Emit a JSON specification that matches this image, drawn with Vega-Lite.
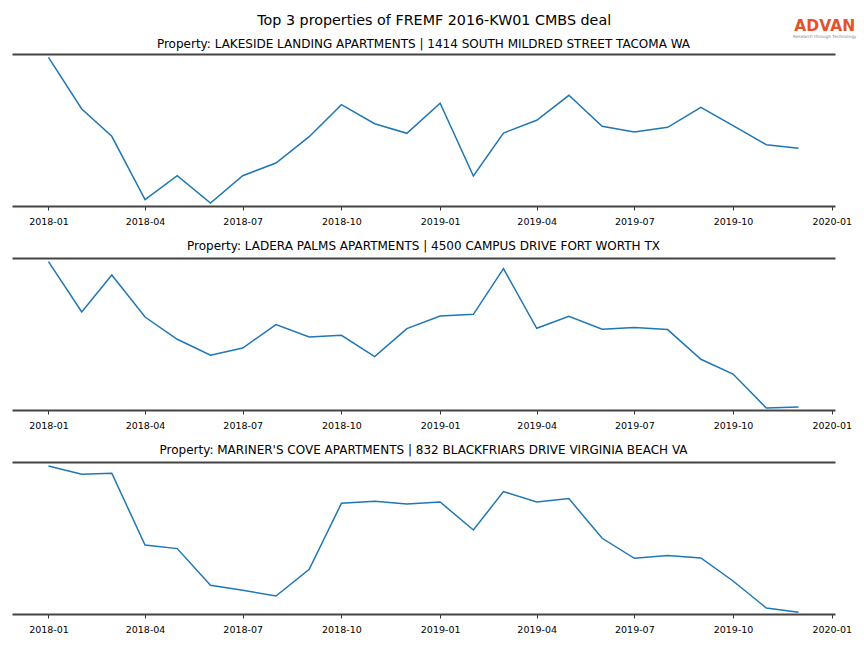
{
  "$schema": "https://vega.github.io/schema/vega-lite/v6.json",
  "padding": {"left": 12, "top": 13, "right": 5, "bottom": 5},
  "background": "white",
  "title": {"text": "Top 3 properties of FREMF 2016-KW01 CMBS deal", "fontSize": 14.3, "fontWeight": "normal", "color": "black", "anchor": "middle", "offset": -9},
  "data": {"values": [
    {"property": "LAKESIDE", "month": "2018-01-01", "value": 148.7},
    {"property": "LAKESIDE", "month": "2018-02-01", "value": 97},
    {"property": "LAKESIDE", "month": "2018-03-01", "value": 69.7},
    {"property": "LAKESIDE", "month": "2018-04-01", "value": 6.3},
    {"property": "LAKESIDE", "month": "2018-05-01", "value": 30.3},
    {"property": "LAKESIDE", "month": "2018-06-01", "value": 3},
    {"property": "LAKESIDE", "month": "2018-07-01", "value": 30.3},
    {"property": "LAKESIDE", "month": "2018-08-01", "value": 43},
    {"property": "LAKESIDE", "month": "2018-09-01", "value": 69.3},
    {"property": "LAKESIDE", "month": "2018-10-01", "value": 101.3},
    {"property": "LAKESIDE", "month": "2018-11-01", "value": 82.3},
    {"property": "LAKESIDE", "month": "2018-12-01", "value": 72.7},
    {"property": "LAKESIDE", "month": "2019-01-01", "value": 102.7},
    {"property": "LAKESIDE", "month": "2019-02-01", "value": 30},
    {"property": "LAKESIDE", "month": "2019-03-01", "value": 73},
    {"property": "LAKESIDE", "month": "2019-04-01", "value": 85.7},
    {"property": "LAKESIDE", "month": "2019-05-01", "value": 110.7},
    {"property": "LAKESIDE", "month": "2019-06-01", "value": 79.7},
    {"property": "LAKESIDE", "month": "2019-07-01", "value": 74},
    {"property": "LAKESIDE", "month": "2019-08-01", "value": 78.7},
    {"property": "LAKESIDE", "month": "2019-09-01", "value": 98.7},
    {"property": "LAKESIDE", "month": "2019-10-01", "value": 80.3},
    {"property": "LAKESIDE", "month": "2019-11-01", "value": 61.3},
    {"property": "LAKESIDE", "month": "2019-12-01", "value": 57.7},
    {"property": "LADERA", "month": "2018-01-01", "value": 148.4},
    {"property": "LADERA", "month": "2018-02-01", "value": 98},
    {"property": "LADERA", "month": "2018-03-01", "value": 135},
    {"property": "LADERA", "month": "2018-04-01", "value": 93},
    {"property": "LADERA", "month": "2018-05-01", "value": 70.7},
    {"property": "LADERA", "month": "2018-06-01", "value": 54.7},
    {"property": "LADERA", "month": "2018-07-01", "value": 62},
    {"property": "LADERA", "month": "2018-08-01", "value": 85.4},
    {"property": "LADERA", "month": "2018-09-01", "value": 73},
    {"property": "LADERA", "month": "2018-10-01", "value": 74.7},
    {"property": "LADERA", "month": "2018-11-01", "value": 53.4},
    {"property": "LADERA", "month": "2018-12-01", "value": 81.4},
    {"property": "LADERA", "month": "2019-01-01", "value": 94},
    {"property": "LADERA", "month": "2019-02-01", "value": 95.7},
    {"property": "LADERA", "month": "2019-03-01", "value": 141.4},
    {"property": "LADERA", "month": "2019-04-01", "value": 81.7},
    {"property": "LADERA", "month": "2019-05-01", "value": 93.7},
    {"property": "LADERA", "month": "2019-06-01", "value": 80.7},
    {"property": "LADERA", "month": "2019-07-01", "value": 82.4},
    {"property": "LADERA", "month": "2019-08-01", "value": 80.4},
    {"property": "LADERA", "month": "2019-09-01", "value": 50.7},
    {"property": "LADERA", "month": "2019-10-01", "value": 36},
    {"property": "LADERA", "month": "2019-11-01", "value": 2},
    {"property": "LADERA", "month": "2019-12-01", "value": 3},
    {"property": "MARINER", "month": "2018-01-01", "value": 148},
    {"property": "MARINER", "month": "2018-02-01", "value": 139.7},
    {"property": "MARINER", "month": "2018-03-01", "value": 140.7},
    {"property": "MARINER", "month": "2018-04-01", "value": 69},
    {"property": "MARINER", "month": "2018-05-01", "value": 65.4},
    {"property": "MARINER", "month": "2018-06-01", "value": 28.7},
    {"property": "MARINER", "month": "2018-07-01", "value": 23.7},
    {"property": "MARINER", "month": "2018-08-01", "value": 18},
    {"property": "MARINER", "month": "2018-09-01", "value": 44.7},
    {"property": "MARINER", "month": "2018-10-01", "value": 110.7},
    {"property": "MARINER", "month": "2018-11-01", "value": 112.7},
    {"property": "MARINER", "month": "2018-12-01", "value": 110},
    {"property": "MARINER", "month": "2019-01-01", "value": 112},
    {"property": "MARINER", "month": "2019-02-01", "value": 84},
    {"property": "MARINER", "month": "2019-03-01", "value": 122.4},
    {"property": "MARINER", "month": "2019-04-01", "value": 112},
    {"property": "MARINER", "month": "2019-05-01", "value": 115.4},
    {"property": "MARINER", "month": "2019-06-01", "value": 75.7},
    {"property": "MARINER", "month": "2019-07-01", "value": 55.7},
    {"property": "MARINER", "month": "2019-08-01", "value": 58.4},
    {"property": "MARINER", "month": "2019-09-01", "value": 56},
    {"property": "MARINER", "month": "2019-10-01", "value": 33},
    {"property": "MARINER", "month": "2019-11-01", "value": 6},
    {"property": "MARINER", "month": "2019-12-01", "value": 1.7}
  ]},
  "vconcat": [
    {
      "width": 823, "height": 152,
      "title": {"text": "Property: LAKESIDE LANDING APARTMENTS | 1414 SOUTH MILDRED STREET TACOMA WA", "fontSize": 12, "fontWeight": "normal", "color": "black", "anchor": "middle", "offset": -32},
      "transform": [{"filter": {"field": "property", "equal": "LAKESIDE"}}],
      "layer": [
        {"mark": {"type": "line", "color": "#1f77b4", "strokeWidth": 1.5},
         "encoding": {
           "x": {"field": "month", "type": "temporal",
                 "scale": {"type": "utc", "domain": ["2017-11-28", "2020-01-04"], "nice": false},
                 "axis": {"orient": "bottom", "title": null, "grid": false, "domain": true, "domainColor": "#444444", "domainWidth": 2, "tickSize": 4, "tickWidth": 0.8, "tickColor": "black", "labelColor": "black", "labelFontSize": 9.5, "labelPadding": 6, "labelFlush": false, "labelOverlap": false, "format": "%Y-%m", "tickCount": {"interval": "month", "step": 3}}},
           "y": {"field": "value", "type": "quantitative", "scale": {"domain": [0, 152], "nice": false, "zero": false}, "axis": null}
         }},
        {"mark": {"type": "line", "strokeOpacity": 0},
         "encoding": {
           "x": {"field": "month", "type": "temporal",
                 "axis": {"orient": "top", "title": null, "grid": false, "labels": false, "ticks": false, "domain": true, "domainColor": "#444444", "domainWidth": 2}},
           "y": {"field": "value", "type": "quantitative", "axis": null}
         }},
        {"mark": {"type": "text", "text": "ADVAN", "font": "DejaVu Sans", "fontWeight": "bold", "fontSize": 15.5, "color": "#E4522A", "align": "center", "baseline": "alphabetic", "dx": 26.2, "dy": -26.5, "clip": false},
         "encoding": {
           "x": {"aggregate": "max", "field": "month", "type": "temporal", "axis": null},
           "y": {"aggregate": "max", "field": "value", "type": "quantitative", "axis": null}
         }},
        {"mark": {"type": "text", "text": "Research through Technology", "font": "DejaVu Sans", "fontSize": 4.3, "color": "#888888", "align": "center", "baseline": "alphabetic", "dx": 26.2, "dy": -19.8, "clip": false},
         "encoding": {
           "x": {"aggregate": "max", "field": "month", "type": "temporal", "axis": null},
           "y": {"aggregate": "max", "field": "value", "type": "quantitative", "axis": null}
         }}
      ],
      "resolve": {"axis": {"x": "independent"}}
    },
    {
      "width": 823, "height": 152,
      "title": {"text": "Property: LADERA PALMS APARTMENTS | 4500 CAMPUS DRIVE FORT WORTH TX", "fontSize": 12, "fontWeight": "normal", "color": "black", "anchor": "middle", "offset": 5},
      "transform": [{"filter": {"field": "property", "equal": "LADERA"}}],
      "layer": [
        {"mark": {"type": "line", "color": "#1f77b4", "strokeWidth": 1.5},
         "encoding": {
           "x": {"field": "month", "type": "temporal",
                 "scale": {"type": "utc", "domain": ["2017-11-28", "2020-01-04"], "nice": false},
                 "axis": {"orient": "bottom", "title": null, "grid": false, "domain": true, "domainColor": "#444444", "domainWidth": 2, "tickSize": 4, "tickWidth": 0.8, "tickColor": "black", "labelColor": "black", "labelFontSize": 9.5, "labelPadding": 6, "labelFlush": false, "labelOverlap": false, "format": "%Y-%m", "tickCount": {"interval": "month", "step": 3}}},
           "y": {"field": "value", "type": "quantitative", "scale": {"domain": [0, 152], "nice": false, "zero": false}, "axis": null}
         }},
        {"mark": {"type": "line", "strokeOpacity": 0},
         "encoding": {
           "x": {"field": "month", "type": "temporal",
                 "axis": {"orient": "top", "title": null, "grid": false, "labels": false, "ticks": false, "domain": true, "domainColor": "#444444", "domainWidth": 2}},
           "y": {"field": "value", "type": "quantitative", "axis": null}
         }}
      ],
      "resolve": {"axis": {"x": "independent"}}
    },
    {
      "width": 823, "height": 152,
      "title": {"text": "Property: MARINER'S COVE APARTMENTS | 832 BLACKFRIARS DRIVE VIRGINIA BEACH VA", "fontSize": 12, "fontWeight": "normal", "color": "black", "anchor": "middle", "offset": 5},
      "transform": [{"filter": {"field": "property", "equal": "MARINER"}}],
      "layer": [
        {"mark": {"type": "line", "color": "#1f77b4", "strokeWidth": 1.5},
         "encoding": {
           "x": {"field": "month", "type": "temporal",
                 "scale": {"type": "utc", "domain": ["2017-11-28", "2020-01-04"], "nice": false},
                 "axis": {"orient": "bottom", "title": null, "grid": false, "domain": true, "domainColor": "#444444", "domainWidth": 2, "tickSize": 4, "tickWidth": 0.8, "tickColor": "black", "labelColor": "black", "labelFontSize": 9.5, "labelPadding": 6, "labelFlush": false, "labelOverlap": false, "format": "%Y-%m", "tickCount": {"interval": "month", "step": 3}}},
           "y": {"field": "value", "type": "quantitative", "scale": {"domain": [0, 152], "nice": false, "zero": false}, "axis": null}
         }},
        {"mark": {"type": "line", "strokeOpacity": 0},
         "encoding": {
           "x": {"field": "month", "type": "temporal",
                 "axis": {"orient": "top", "title": null, "grid": false, "labels": false, "ticks": false, "domain": true, "domainColor": "#444444", "domainWidth": 2}},
           "y": {"field": "value", "type": "quantitative", "axis": null}
         }}
      ],
      "resolve": {"axis": {"x": "independent"}}
    }
  ],
  "spacing": 14,
  "config": {
    "font": "DejaVu Sans",
    "view": {"stroke": null}
  }
}
